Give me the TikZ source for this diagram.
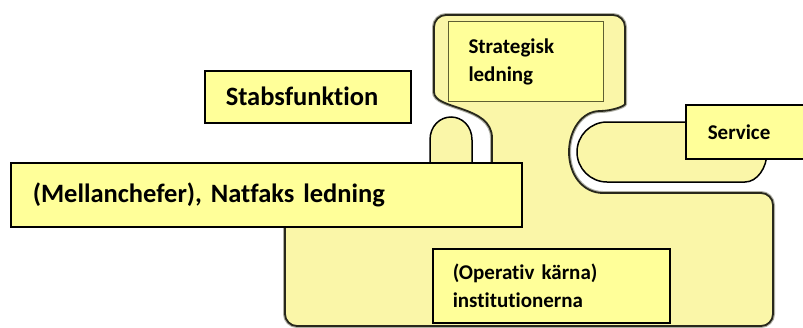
\documentclass[tikz,border=0pt]{standalone}
\usepackage{fontspec}
\setmainfont{Carlito}[Ligatures=NoCommon]
\definecolor{bodyfill}{RGB}{250,246,168}
\definecolor{boxfill}{RGB}{255,255,153}
\definecolor{bodyline}{RGB}{40,40,28}
\definecolor{halo}{RGB}{175,175,165}
\definecolor{innerline}{RGB}{95,95,50}
\frenchspacing
\begin{document}
\begin{tikzpicture}[x=1pt,y=-1pt,
  body/.style={draw=bodyline, line width=1.8pt, fill=bodyfill,
    preaction={draw=halo, line width=4pt}},
  lobe/.style={draw=black, line width=1.5pt, fill=bodyfill},
  lbl/.style={draw=black, line width=1.5pt, fill=boxfill, anchor=north west,
    inner ysep=0pt, align=left},
  bigfont/.style={font=\fontsize{26.5}{30}\selectfont\bfseries},
  smallfont/.style={font=\fontsize{21}{28}\selectfont\bfseries}]
\clip (0,0) rectangle (803,327);
% main body
\draw[body] (434,92) [rounded corners=12pt] -- (434,15) -- (625,15) -- (625,92)
  [sharp corners] .. controls (625,106) and (612,111) .. (600,111)
  .. controls (582,111) and (569,130) .. (569,152)
  .. controls (569,175) and (583,193) .. (603,193)
  [rounded corners=12pt] -- (773,193) -- (773,326) -- (285,326) -- (285,195) -- (492,195) -- (492,150)
  [sharp corners] .. controls (492,105) and (434,110) .. (434,92) -- cycle;
% left lobe
\draw[lobe] (430,200) -- (430,140) .. controls (430,126) and (440,117) .. (451,117)
  .. controls (462,117) and (472,126) .. (472,140) -- (472,200);
% right lobe
\draw[lobe] (607,122) -- (745,122) .. controls (757,122) and (767,136) .. (767,152)
  .. controls (767,168) and (757,182) .. (745,182) -- (607,182)
  .. controls (590.5,182) and (577,168.5) .. (577,152)
  .. controls (577,135.5) and (590.5,122) .. (607,122) -- cycle;
% labels
\node[lbl, draw=innerline, line width=1pt, smallfont, minimum height=80pt,
  inner xsep=20pt, text width=115pt] (strat) at (448,21) {Strategisk\\ledning};
\node[lbl, bigfont, minimum height=52pt, inner xsep=21pt, text width=164pt] (stab) at (204,70) {Stabsfunktion};
\node[lbl, smallfont, minimum height=54pt, inner xsep=22pt, text width=86pt] (serv) at (685,104) {Service};
\node[lbl, bigfont, minimum height=64pt, inner xsep=22pt, text width=467pt] (mell) at (10,162) {(Mellanchefer), Natfaks ledning};
\node[lbl, smallfont, minimum height=74pt, inner xsep=20pt, text width=197pt] (oper) at (432,248) {(Operativ kärna)\\institutionerna};
\end{tikzpicture}
\end{document}
